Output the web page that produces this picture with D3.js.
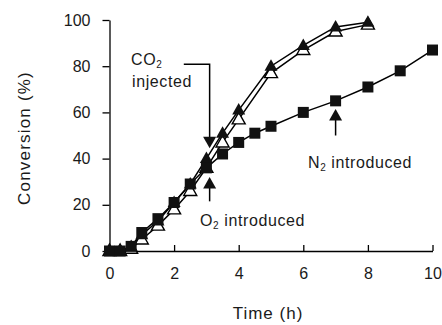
<!DOCTYPE html>
<html>
<head>
<meta charset="utf-8">
<script src="https://cdn.jsdelivr.net/npm/d3@7"></script>
<style>
  body { margin: 0; background: #fff; }
  svg { display: block; font-family: "Liberation Sans", Arial, sans-serif; }
  .axis path, .axis line { stroke: #000; stroke-width: 1.3; }
  .axis text { font-size: 16px; fill: #1a1a1a; }
</style>
</head>
<body>
<svg id="chart" width="442" height="325"></svg>
<script>
// time (h) and conversion (%)
const timeTri = [0, 0.33, 0.67, 1, 1.5, 2, 2.5, 3, 3.5, 4, 5, 6, 7, 8];
const filledTri = [0, 0, 2, 7, 13, 21, 29, 40, 51, 61, 80, 89, 97, 99];
const openTri = [0, 0, 1, 5, 11, 18, 26, 36, 47, 57, 77, 87, 95, 98];
const timeSq = [0, 0.33, 0.67, 1, 1.5, 2, 2.5, 3, 3.5, 4, 4.5, 5, 6, 7, 8, 9, 10];
const filledSq = [0, 0, 2, 8, 14, 21, 29, 36, 42, 47, 51, 54, 60, 65, 71, 78, 87];

const xTicks = [0, 2, 4, 6, 8, 10];
const yTicks = [0, 20, 40, 60, 80, 100];

// annotation anchors in data units
const co2Arrow = { t: 3.1, top: 80.8, tip: 44.5, left: 2.3 };
const o2Arrow = { t: 3.1, tip: 32, bottom: 21.5 };
const n2Arrow = { t: 7, tip: 61.5, bottom: 50 };

const svg = d3.select("#chart");

const x = d3.scaleLinear().domain([0, 10]).range([109.5, 432.5]);
const y = d3.scaleLinear().domain([0, 100]).range([251, 20]);

// axes
svg.append("g")
    .attr("class", "axis")
    .attr("transform", "translate(109.5,0)")
    .call(d3.axisLeft(y).tickValues(yTicks).tickSizeInner(7).tickSizeOuter(0).tickPadding(12));

svg.append("g")
    .attr("class", "axis")
    .attr("transform", "translate(0,251)")
    .call(d3.axisBottom(x).tickValues(xTicks).tickSizeInner(-6).tickSizeOuter(0).tickPadding(17));

svg.append("text")
    .attr("transform", "translate(30,138) rotate(-90)")
    .attr("text-anchor", "middle")
    .attr("font-size", 17)
    .attr("letter-spacing", 1.2)
    .attr("fill", "#1a1a1a")
    .text("Conversion (%)");

svg.append("text")
    .attr("x", 268)
    .attr("y", 319)
    .attr("text-anchor", "middle")
    .attr("font-size", 17)
    .attr("letter-spacing", 1)
    .attr("fill", "#1a1a1a")
    .text("Time (h)");

// series
const line = d3.line().x(d => x(d[0])).y(d => y(d[1]));
const triUp = "M0,-7L6.5,4.5L-6.5,4.5Z";
const triDown = "M0,7L6.5,-4.5L-6.5,-4.5Z";

const openPts = d3.zip(timeTri, openTri);
const filledPts = d3.zip(timeTri, filledTri);
const sqPts = d3.zip(timeSq, filledSq);

[openPts, filledPts, sqPts].forEach(pts => {
    svg.append("path")
        .datum(pts)
        .attr("fill", "none")
        .attr("stroke", "#000")
        .attr("stroke-width", 1.5)
        .attr("d", line);
});

svg.append("g").selectAll("path")
    .data(openPts)
    .join("path")
    .attr("transform", d => `translate(${x(d[0])},${y(d[1])})`)
    .attr("d", triUp)
    .attr("fill", "#fff")
    .attr("stroke", "#000")
    .attr("stroke-width", 1.4);

svg.append("g").selectAll("path")
    .data(filledPts)
    .join("path")
    .attr("transform", d => `translate(${x(d[0])},${y(d[1])})`)
    .attr("d", triUp)
    .attr("fill", "#111");

svg.append("g").selectAll("rect")
    .data(sqPts)
    .join("rect")
    .attr("x", d => x(d[0]) - 5.5)
    .attr("y", d => y(d[1]) - 5.5)
    .attr("width", 11)
    .attr("height", 11)
    .attr("fill", "#111");

// annotations
const ann = svg.append("g").attr("stroke", "#000").attr("stroke-width", 1.5).attr("fill", "none");

ann.append("path")
    .attr("d", `M${x(co2Arrow.left)},${y(co2Arrow.top)}H${x(co2Arrow.t)}V${y(co2Arrow.tip) - 8}`);
svg.append("path")
    .attr("transform", `translate(${x(co2Arrow.t)},${y(co2Arrow.tip) - 7})`)
    .attr("d", triDown)
    .attr("fill", "#111");

[o2Arrow, n2Arrow].forEach(a => {
    ann.append("line")
        .attr("x1", x(a.t)).attr("x2", x(a.t))
        .attr("y1", y(a.tip) + 8).attr("y2", y(a.bottom));
    svg.append("path")
        .attr("transform", `translate(${x(a.t)},${y(a.tip) + 7})`)
        .attr("d", triUp)
        .attr("fill", "#111");
});

function chemLabel(px, py, head, sub, tail) {
    const t = svg.append("text")
        .attr("x", px)
        .attr("y", py)
        .attr("font-size", 16)
        .attr("letter-spacing", 0.6)
        .attr("fill", "#1a1a1a");
    t.append("tspan").text(head);
    t.append("tspan").attr("font-size", 10).attr("dy", 3).text(sub);
    t.append("tspan").attr("dy", -3).text(tail);
    return t;
}

chemLabel(131, 65, "CO", "2", "");
svg.append("text").attr("x", 132).attr("y", 87).attr("font-size", 16)
    .attr("letter-spacing", 0.6).attr("fill", "#1a1a1a").text("injected");
chemLabel(200, 226, "O", "2", " introduced");
chemLabel(308, 168, "N", "2", " introduced");
</script>
</body>
</html>
